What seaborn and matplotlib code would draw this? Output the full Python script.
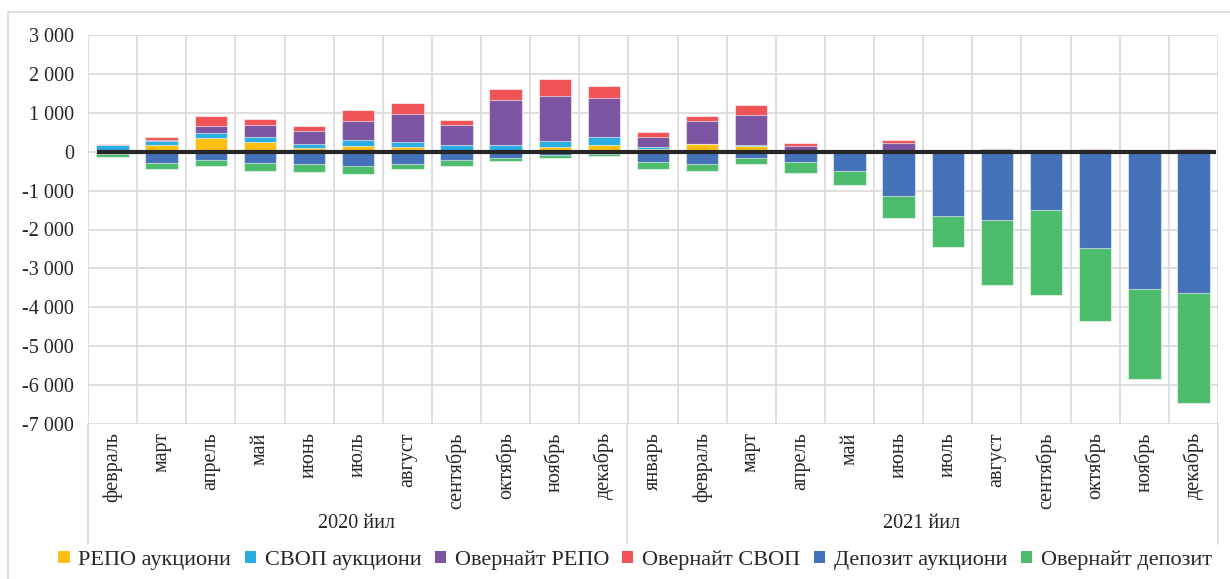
import matplotlib
matplotlib.use("Agg")
import matplotlib.pyplot as plt
from matplotlib.patches import Patch
from matplotlib.lines import Line2D
from matplotlib.ticker import FuncFormatter
import numpy as np
import seaborn as sns

months_2020 = ["февраль", "март", "апрель", "май", "июнь", "июль", "август",
               "сентябрь", "октябрь", "ноябрь", "декабрь"]
months_2021 = ["январь", "февраль", "март", "апрель", "май", "июнь", "июль",
               "август", "сентябрь", "октябрь", "ноябрь", "декабрь"]
years = ["2020 йил", "2021 йил"]

# positive side (bottom -> top)
repo_auction = [10, 160, 350, 250, 95, 145, 115, 0, 0, 110, 180,
                80, 205, 135, 0, 0, 0, 0, 0, 0, 0, 0, 0]
swap_auction = [150, 110, 130, 135, 105, 165, 135, 170, 170, 155, 200,
                40, 0, 25, 0, 0, 0, 0, 0, 0, 0, 0, 0]
overnight_repo = [0, 40, 180, 310, 325, 490, 720, 510, 1150, 1170, 995,
                  270, 585, 780, 145, 0, 220, 30, 80, 0, 0, 0, 40]
overnight_swap = [40, 80, 265, 155, 140, 265, 280, 140, 285, 445, 305,
                  120, 120, 265, 85, 50, 90, 0, 0, 40, 60, 0, 20]
# negative side (top -> bottom)
deposit_auction = [-50, -290, -205, -290, -315, -370, -320, -225, -150, -90, -70,
                   -260, -310, -170, -275, -505, -1150, -1645, -1750, -1510, -2470, -3540, -3625]
overnight_deposit = [-75, -155, -155, -215, -205, -205, -130, -155, -85, -60, -45,
                     -195, -180, -140, -270, -340, -555, -805, -1680, -2175, -1890, -2310, -2835]

labels = ["РЕПО аукциони", "СВОП аукциони", "Овернайт РЕПО", "Овернайт СВОП",
          "Депозит аукциони", "Овернайт депозит"]
colors = ["#FDBF13", "#2AADE3", "#7B55A2", "#F05356", "#4571B8", "#4CBB6C"]

sns.set_theme(style="white")
plt.rcParams['font.family'] = ['Liberation Serif', 'DejaVu Serif']

W, H = 1230, 579
fig = plt.figure(figsize=(W / 100, H / 100), dpi=100)
x0, x1, y0, y1 = 88, 1218, 35, 424
ax = fig.add_axes([x0 / W, 1 - y1 / H, (x1 - x0) / W, (y1 - y0) / H])

month_labels = months_2020 + months_2021
keys = [str(i) for i in range(len(month_labels))]

pos = np.array([repo_auction, swap_auction, overnight_repo, overnight_swap])
neg = np.array([deposit_auction, overnight_deposit])
pos_cum = pos.cumsum(axis=0)
neg_cum = neg.cumsum(axis=0)

edge = (1, 1, 1, 0.55)
# draw cumulative totals from the outside in so each layer shows as a segment
for k in [3, 2, 1, 0]:
    sns.barplot(x=keys, y=pos_cum[k], order=keys, color=colors[k], saturation=1,
                width=0.66, edgecolor=edge, linewidth=0.8, ax=ax, zorder=2)
for k in [1, 0]:
    sns.barplot(x=keys, y=neg_cum[k], order=keys, color=colors[4 + k], saturation=1,
                width=0.66, edgecolor=edge, linewidth=0.8, ax=ax, zorder=2)

ax.hlines(0, -0.32, 22.46, color="#262626", linewidth=3, zorder=3)

ax.set_xlim(-0.5, len(keys) - 0.5)
ax.set_ylim(-7000, 3000)
ax.set_yticks(range(-7000, 3001, 1000))
ax.yaxis.set_major_formatter(FuncFormatter(lambda v, p: f"{v:,.0f}".replace(",", " ")))
ax.yaxis.grid(True, color="#D9D9D9", linewidth=1.2)
ax.vlines(np.arange(-0.5, len(keys)), -7000, 3000, color="#D9D9D9", linewidth=1.2, zorder=0)
ax.set_axisbelow(True)
for s in ax.spines.values():
    s.set_visible(False)

ax.set_xticks(range(len(keys)))
ax.set_xticklabels(month_labels, rotation=90, fontsize=14.5)
ax.tick_params(axis="x", length=0, pad=6)
ax.tick_params(axis="y", length=0, pad=10, labelsize=14.5)
ax.set_xlabel("")
ax.set_ylabel("")

# year grouping of the category axis
gl = "#D9D9D9"
for xp in [88, 627, 1218]:
    fig.add_artist(Line2D([xp / W, xp / W], [1 - 424 / H, 1 - 544 / H],
                          transform=fig.transFigure, color=gl, linewidth=1.2))
fig.text(357 / W, 1 - 523 / H, years[0], ha="center", va="center", fontsize=14.5)
fig.text(922 / W, 1 - 523 / H, years[1], ha="center", va="center", fontsize=14.5)

# outer chart border
fig.add_artist(Line2D([8 / W, 1], [1 - 12 / H, 1 - 12 / H], transform=fig.transFigure,
                      color=gl, linewidth=1.2))
fig.add_artist(Line2D([8 / W, 8 / W], [0, 1 - 12 / H], transform=fig.transFigure,
                      color=gl, linewidth=1.2))

handles = [Patch(facecolor=c, edgecolor="none") for c in colors]
fig.legend(handles, labels, loc="center", bbox_to_anchor=(635 / W, 1 - 560 / H), ncol=6,
           frameon=False, fontsize=16, handlelength=0.5, handleheight=0.5,
           handletextpad=0.4, columnspacing=0.6)

fig.savefig("out.png", dpi=100)
